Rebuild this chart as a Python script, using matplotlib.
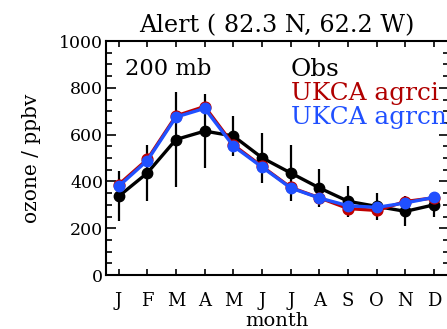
import matplotlib
matplotlib.use("Agg")
import matplotlib.pyplot as plt
import numpy as np

months = np.arange(1, 13)
month_labels = ["J", "F", "M", "A", "M", "J", "J", "A", "S", "O", "N", "D"]

obs = [336, 436, 579, 615, 594, 501, 436, 372, 315, 293, 272, 300]
obs_err = [107, 120, 204, 157, 85, 107, 120, 80, 65, 57, 64, 54]
agrci = [386, 494, 680, 720, 556, 464, 374, 330, 284, 276, 314, 330]
agrcn = [379, 489, 675, 712, 551, 461, 372, 329, 296, 289, 308, 332]

plt.rcParams['font.family'] = ['DejaVu Serif']

fig = plt.figure(figsize=(4.47, 3.29), dpi=100)
W, H = 447.0, 329.0
ax = fig.add_axes([106 / W, (H - 275) / H, (448.5 - 106) / W, (275 - 41) / H])

ax.errorbar(months, obs, yerr=obs_err, fmt='none', ecolor='black', elinewidth=1.6, capsize=0, zorder=2)
ax.plot(months, obs, color='black', lw=2.4, marker='o', ms=7.5, zorder=3)
ax.plot(months, agrci, color='#c00000', lw=2.4, marker='o', ms=7.8, zorder=4)
ax.plot(months, agrcn, color='#2050ff', lw=2.4, marker='o', ms=7.5, zorder=5)

ax.set_xlim(0.56, 12.5)
ax.set_ylim(0, 1000)
ax.set_xticks(months)
ax.set_xticklabels(month_labels, fontsize=13)
ax.set_yticks([0, 200, 400, 600, 800, 1000])
ax.set_yticks(np.arange(0, 1001, 50), minor=True)
ax.tick_params(axis='y', labelsize=12.5, direction='in', which='major', length=7, width=1.2, right=True, pad=2)
ax.tick_params(axis='y', direction='in', which='minor', length=4, width=1.2, right=True)
ax.tick_params(axis='x', direction='in', length=4, width=1.2, top=True, pad=12)
for s in ax.spines.values():
    s.set_linewidth(1.5)

ax.set_xlabel("month", fontsize=14, labelpad=2)
ax.set_ylabel("ozone / ppbv", fontsize=14.5, labelpad=13)
ax.set_title("Alert ( 82.3 N, 62.2 W)", fontsize=17.2, pad=6)

ax.text(0.055, 0.88, "200 mb", transform=ax.transAxes, fontsize=16.3, va='center')
ax.text(0.54, 0.88, "Obs", transform=ax.transAxes, fontsize=17.8, va='center', color='black')
ax.text(0.54, 0.775, "UKCA agrci", transform=ax.transAxes, fontsize=17.8, va='center', color='#b00000')
ax.text(0.54, 0.672, "UKCA agrcn", transform=ax.transAxes, fontsize=17.8, va='center', color='#2050ff')

fig.savefig("out.png", dpi=100)
